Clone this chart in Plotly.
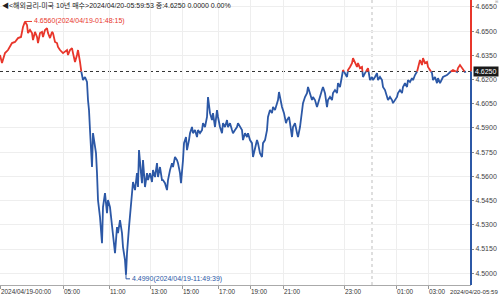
import plotly.graph_objects as go

# ---------------- data ----------------
title_text = "◀<해외금리-미국 10년 매수>2024/04/20-05:59:53 종:4.6250 0.0000 0.00%"
last_price = 4.6250

# tick sequence position (index axis, 0 .. 471)
seq = [0,2,5,8,12,15,18,21,23,25,27,28,30,32,33,35,37,38,40,42,43,45,47,48,50,52,53,55,57,58,60,62,63,67,68,70,72,73,75,77,78,80,81,83,85,87,88,89,90,91,92,93,94,96,97,98,100,102,103,105,107,108,
       110,112,113,115,117,118,120,122,123,125,126,127,129,131,132,133,135,137,138,139,141,142,143,145,147,148,150,152,153,155,157,158,160,162,163,165,167,168,170,172,173,175,177,178,180,181,183,184,186,187,189,190,192,193,195,197,198,200,202,203,205,207,208,210,212,213,215,217,218,
       220,222,223,225,227,228,230,232,233,235,237,238,240,242,243,245,247,248,250,252,253,255,257,258,260,262,263,265,267,268,270,272,273,275,277,278,279,281,282,284,286,287,289,290,292,293,295,297,298,300,302,303,305,307,308,310,312,313,315,317,318,320,322,323,325,327,328,
       330,332,333,335,337,338,340,342,343,345,347,348,350,352,353,355,357,358,360,362,363,365,367,368,370,372,373,375,377,378,380,382,383,385,387,388,390,392,393,395,397,398,400,402,403,405,407,408,410,412,413,415,417,418,420,422,423,425,427,428,430,432,433,435,437,438,440,443,
       447,450,453,457,458,460,462,463,465,466]

price = [4.6352,4.6302,4.6364,4.6383,4.6426,4.6433,4.6457,4.6464,4.6526,4.6560,4.6538,4.6488,4.6507,4.6488,4.6445,4.6495,4.6464,4.6426,4.6488,4.6495,4.6464,4.6507,4.6519,4.6488,4.6457,4.6495,4.6488,4.6433,4.6426,4.6402,4.6383,4.6371,4.6364,4.6383,4.6352,4.6383,4.6395,4.6364,4.6309,4.6352,4.6383,4.6309,4.6259,4.6197,4.6216,4.6185,4.6073,4.6011,4.5887,4.5782,4.5658,4.5868,4.5825,4.5744,4.5620,4.5453,4.5348,4.5186,4.5410,4.5496,4.5372,4.5453,
         4.5410,4.5286,4.5248,4.5124,4.5286,4.5248,4.5329,4.5248,4.5162,4.5081,4.4990,4.5124,4.5286,4.5410,4.5496,4.5565,4.5515,4.5620,4.5534,4.5763,4.5620,4.5558,4.5701,4.5534,4.5620,4.5577,4.5620,4.5565,4.5639,4.5596,4.5682,4.5596,4.5658,4.5577,4.5577,4.5558,4.5515,4.5577,4.5639,4.5682,4.5658,4.5720,4.5701,4.5682,4.5620,4.5558,4.5701,4.5806,4.5844,4.5763,4.5825,4.5868,4.5906,4.5868,4.5887,4.5844,4.5887,4.5868,4.5887,4.5930,4.5906,4.5968,4.6092,4.5992,4.5949,4.5992,4.5906,4.6011,4.5968,
         4.5906,4.5868,4.5930,4.5906,4.5949,4.5906,4.5930,4.5887,4.5868,4.5887,4.5906,4.5930,4.5906,4.5887,4.5825,4.5868,4.5844,4.5868,4.5825,4.5806,4.5720,4.5782,4.5825,4.5806,4.5744,4.5720,4.5806,4.5825,4.5887,4.5968,4.6011,4.5992,4.6030,4.6011,4.6054,4.6073,4.6123,4.6054,4.6030,4.5992,4.5930,4.5949,4.5968,4.5930,4.5844,4.5906,4.5930,4.5868,4.5844,4.5906,4.5992,4.6054,4.6092,4.6116,4.6154,4.6116,4.6073,4.6092,4.6073,4.6030,4.6054,4.6092,4.6135,4.6154,4.6116,4.6030,4.6073,
         4.6092,4.6073,4.6116,4.6135,4.6116,4.6178,4.6154,4.6216,4.6259,4.6240,4.6216,4.6259,4.6278,4.6302,4.6333,4.6309,4.6278,4.6302,4.6271,4.6278,4.6216,4.6240,4.6259,4.6271,4.6197,4.6216,4.6197,4.6216,4.6240,4.6197,4.6216,4.6197,4.6154,4.6135,4.6092,4.6073,4.6092,4.6073,4.6054,4.6073,4.6092,4.6116,4.6135,4.6116,4.6154,4.6178,4.6154,4.6197,4.6185,4.6209,4.6197,4.6228,4.6247,4.6278,4.6321,4.6290,4.6333,4.6302,4.6309,4.6278,4.6259,4.6240,4.6197,4.6216,4.6178,4.6209,4.6178,4.6216,
         4.6228,4.6247,4.6259,4.6247,4.6271,4.6290,4.6271,4.6259,4.6247,4.6250]

x_tick_pos = [0, 63, 109, 150, 182, 218, 250, 283, 344, 396, 428]
x_tick_text = ["2024/04/19-00:00", "05:00", "11:00", "13:00", "15:00", "17:00",
               "19:00", "21:00", "23:00", "01:00", "03:00"]
x_end_pos = 471
x_end_text = "2024/04/20-05:59"
day_break = 372

y_ticks = [4.5000, 4.5150, 4.5300, 4.5450, 4.5600, 4.5750, 4.5900,
           4.6050, 4.6200, 4.6350, 4.6500, 4.6650]

max_text = "4.6560(2024/04/19-01:48:15)"
min_text = "4.4990(2024/04/19-11:49:39)"

# ---------------- styling ----------------
RED = "#e8362b"
BLUE = "#2c58a6"
FONT = "Liberation Sans Narrow, Arial Narrow, Liberation Sans, Noto Sans CJK KR, sans-serif"
FS = 7
XFS = 6.4
Y_MIN, Y_MAX = 4.4927, 4.6693


def split_by_level(xs, ys, level):
    """Split a line into parts above / below a level (for two-colour drawing)."""
    above = {"x": [], "y": []}
    below = {"x": [], "y": []}
    def tgt(v):
        return above if v >= level else below
    cur = tgt(ys[0])
    cur["x"].append(xs[0]); cur["y"].append(ys[0])
    for i in range(1, len(xs)):
        nxt = tgt(ys[i])
        if nxt is not cur:
            x0, y0, x1, y1 = xs[i - 1], ys[i - 1], xs[i], ys[i]
            xc = x0 + (level - y0) * (x1 - x0) / (y1 - y0) if y1 != y0 else x0
            cur["x"] += [xc, None]; cur["y"] += [level, None]
            nxt["x"].append(xc); nxt["y"].append(level)
            cur = nxt
        cur["x"].append(xs[i]); cur["y"].append(ys[i])
    return above, below


up, down = split_by_level(seq, price, last_price)

fig = go.Figure()
fig.add_trace(go.Scatter(x=down["x"], y=down["y"], mode="lines",
                         line=dict(color=BLUE, width=1.8), hoverinfo="skip",
                         connectgaps=False))
fig.add_trace(go.Scatter(x=up["x"], y=up["y"], mode="lines",
                         line=dict(color=RED, width=1.8), hoverinfo="skip",
                         connectgaps=False))

shapes = []
shapes.append(dict(type="line", xref="paper", yref="y", x0=0, x1=1,
                   y0=last_price, y1=last_price,
                   line=dict(color="#333333", width=1, dash="dot"), layer="below"))
shapes.append(dict(type="line", xref="x", yref="paper", x0=day_break, x1=day_break,
                   y0=0, y1=1, line=dict(color="#bdbdbd", width=1, dash="dot"),
                   layer="below"))
shapes.append(dict(type="line", xref="paper", yref="y", x0=1, x1=1,
                   y0=last_price, y1=Y_MAX, line=dict(color=RED, width=2)))
shapes.append(dict(type="line", xref="paper", yref="y", x0=1, x1=1,
                   y0=Y_MIN, y1=last_price, line=dict(color=BLUE, width=2)))

imax = max(range(len(price)), key=lambda i: price[i])
imin = min(range(len(price)), key=lambda i: price[i])
shapes.append(dict(type="line", xref="x", yref="y", xsizemode="pixel",
                   xanchor=seq[imax], x0=0, x1=7, y0=price[imax], y1=price[imax],
                   line=dict(color=RED, width=1)))
shapes.append(dict(type="line", xref="x", yref="y", xsizemode="pixel", ysizemode="pixel",
                   xanchor=seq[imin], yanchor=price[imin], x0=0, x1=0, y0=0, y1=-4,
                   line=dict(color=BLUE, width=1)))
shapes.append(dict(type="line", xref="x", yref="y", xsizemode="pixel", ysizemode="pixel",
                   xanchor=seq[imin], yanchor=price[imin], x0=0, x1=4, y0=-4, y1=-4,
                   line=dict(color=BLUE, width=1)))

annotations = []
annotations.append(dict(text=title_text, xref="paper", yref="paper", x=0, y=1,
                        xanchor="left", yanchor="top", yshift=1, showarrow=False,
                        font=dict(family=FONT, size=FS, color="#222222")))
annotations.append(dict(text=max_text, x=seq[imax], y=price[imax], xref="x", yref="y",
                        xanchor="left", yanchor="middle", xshift=7, showarrow=False,
                        font=dict(family=FONT, size=FS, color=RED)))
annotations.append(dict(text=min_text, x=seq[imin], y=price[imin], xref="x", yref="y",
                        xanchor="left", yanchor="middle", xshift=4, yshift=-4,
                        showarrow=False, font=dict(family=FONT, size=FS, color=BLUE)))
for p, t in zip(x_tick_pos, x_tick_text):
    annotations.append(dict(text=t, x=p, y=0, xref="x", yref="paper", xanchor="left",
                            yanchor="top", yshift=-1, xshift=-1, showarrow=False,
                            font=dict(family=FONT, size=XFS, color="#333333")))
annotations.append(dict(text=x_end_text, x=1.0616, y=0, xref="paper", yref="paper",
                        xanchor="right", yanchor="top", yshift=-1, showarrow=False,
                        font=dict(family=FONT, size=6.1, color="#333333")))
annotations.append(dict(text=f"{last_price:.4f}", x=1, y=last_price, xref="paper",
                        yref="y", xanchor="left", yanchor="middle", xshift=2,
                        showarrow=False, bgcolor="#1a1a1a", borderpad=1,
                        font=dict(family=FONT, size=FS, color="white")))
annotations.append(dict(text="⊞", x=1.0616, y=1, xref="paper", yref="paper",
                        xanchor="right", yanchor="top", yshift=3, showarrow=False,
                        font=dict(family="DejaVu Sans", size=4, color="#aaaaaa")))

fig.update_layout(
    width=500, height=297,
    margin=dict(l=0, r=29, t=0, b=12, pad=0, autoexpand=False),
    paper_bgcolor="white", plot_bgcolor="white",
    showlegend=False,
    shapes=shapes, annotations=annotations,
    xaxis=dict(range=[0, x_end_pos], tickvals=x_tick_pos, showticklabels=False,
               ticks="outside", ticklen=3, tickcolor="#999999",
               showline=True, linecolor="#aaaaaa", linewidth=1,
               showgrid=True, gridcolor="#eeeeee", gridwidth=1, zeroline=False,
               fixedrange=True),
    yaxis=dict(range=[Y_MIN, Y_MAX], side="right", tickvals=y_ticks,
               ticktext=[f"{v:.4f}" for v in y_ticks],
               ticks="outside", ticklen=2, tickcolor="#888888",
               tickfont=dict(family=FONT, size=FS, color="#444444"),
               showgrid=True, gridcolor="#eeeeee", gridwidth=1,
               showline=False, zeroline=False, fixedrange=True),
)

fig.write_html("out.html")
